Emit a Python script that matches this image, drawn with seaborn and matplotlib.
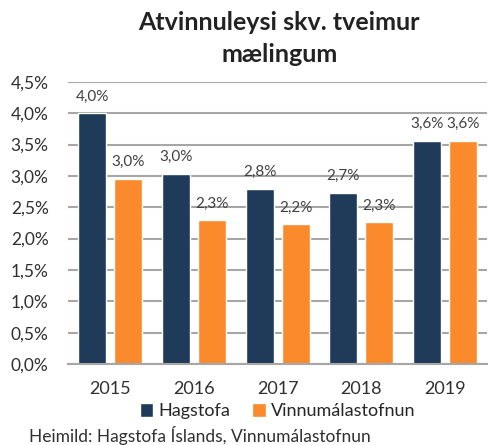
import seaborn as sns
import matplotlib.pyplot as plt
import pandas as pd

years = ['2015', '2016', '2017', '2018', '2019']
hagstofa = [4.0, 3.03, 2.79, 2.73, 3.56]
vinnumalastofnun = [2.95, 2.29, 2.23, 2.26, 3.56]
series = ['Hagstofa', 'Vinnumálastofnun']
ticks = [0, 0.5, 1.0, 1.5, 2.0, 2.5, 3.0, 3.5, 4.0, 4.5]

df = pd.DataFrame({
    'ar': years * 2,
    'gildi': hagstofa + vinnumalastofnun,
    'rod': [series[0]] * 5 + [series[1]] * 5,
})

sns.set_style('white')
plt.rcParams['font.family'] = ['Lato', 'DejaVu Sans']

fig = plt.figure(figsize=(4.9, 4.45), dpi=100)
ax = fig.add_axes([0.139, 0.182, 0.855, 0.634])

sns.barplot(data=df, x='ar', y='gildi', hue='rod', ax=ax,
            palette=['#203B5A', '#FA8A2C'], width=0.86, gap=0.22,
            saturation=1, legend=True)

fmt = lambda v: f'{v:.1f}%'.replace('.', ',')
for c in ax.containers:
    ax.bar_label(c, labels=[fmt(v) for v in c.datavalues], padding=7,
                 fontsize=11, color='#404040')

ax.set_ylim(0, 4.5)
ax.set_yticks(ticks)
ax.set_yticklabels([fmt(t) for t in ticks], fontsize=12.5, color='#303030')
ax.tick_params(axis='x', labelsize=13, colors='#303030', pad=9)
ax.tick_params(axis='y', pad=14, length=0)
ax.yaxis.grid(True, color='#A6A6A6', linewidth=1.5)
ax.set_axisbelow(True)
for s in ['top', 'right', 'left']:
    ax.spines[s].set_visible(False)
ax.spines['bottom'].set_color('#A6A6A6')
ax.spines['bottom'].set_linewidth(1.5)
ax.set_xlabel('')
ax.set_ylabel('')

ax.legend(loc='center', bbox_to_anchor=(0.5, -0.168), ncol=2, frameon=False,
          fontsize=13, handlelength=0.75, handleheight=0.75, handletextpad=0.3,
          columnspacing=1.2, borderpad=0.1)

fig.suptitle('Atvinnuleysi skv. tveimur\nmælingum', x=0.57, y=0.975,
             fontsize=18, fontweight='bold', color='#222222', linespacing=1.45)
fig.text(0.06, 0.006, 'Heimild: Hagstofa Íslands, Vinnumálastofnun',
         fontsize=12.5, color='#303030')

fig.savefig('out.png', dpi=100)
